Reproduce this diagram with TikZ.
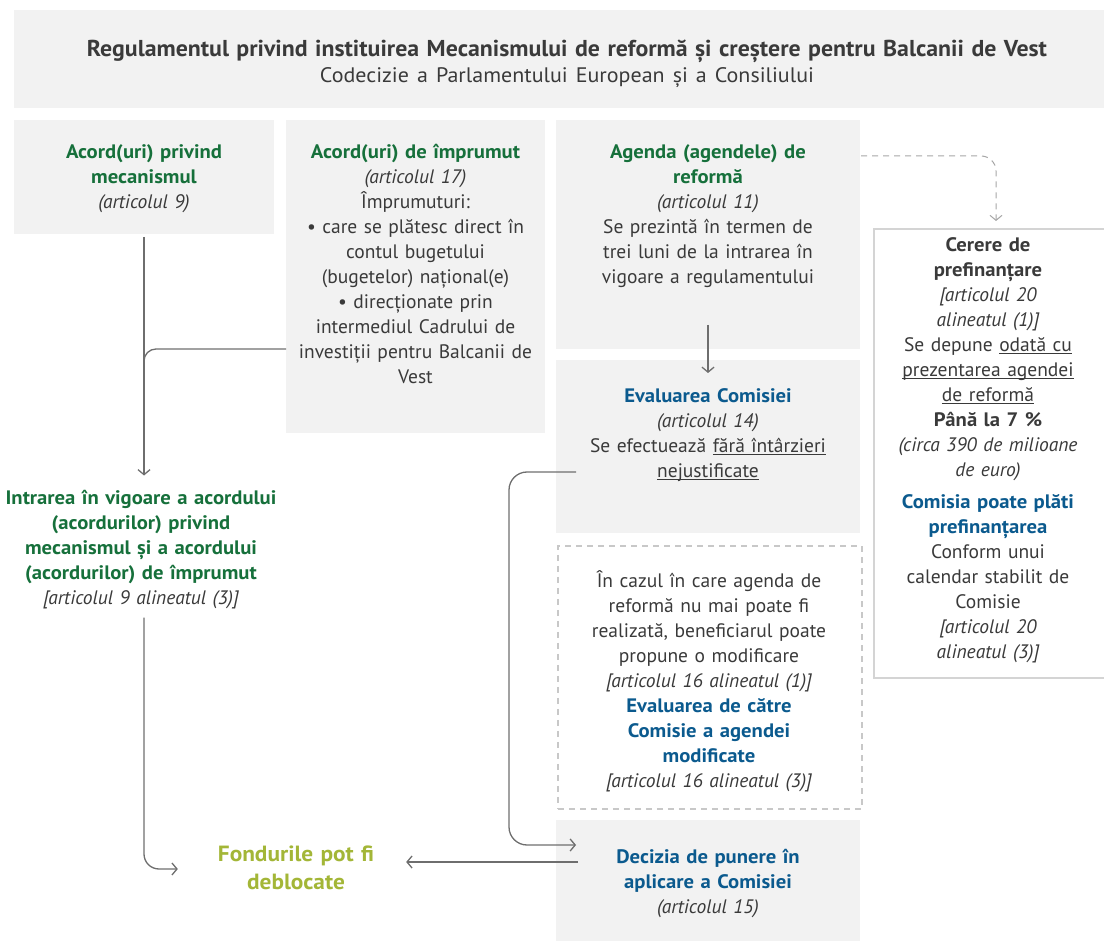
\documentclass[tikz,border=0pt]{standalone}
\usepackage{fontspec}
\setmainfont{PT Sans}[BoldFeatures={FakeStretch=1.06}]
\usetikzlibrary{arrows.meta,calc}
\definecolor{boxgray}{HTML}{F2F2F2}
\definecolor{dgreen}{HTML}{16703B}
\definecolor{dblue}{HTML}{0B5A8E}
\definecolor{limeg}{HTML}{A3B637}
\definecolor{txt}{HTML}{3A3A3A}
\definecolor{lngray}{HTML}{6E6E6E}
\definecolor{dashgray}{HTML}{C8C8C8}
\definecolor{gborder}{HTML}{D4D4D4}
\newcommand\mygreen[1]{{\bfseries\color{dgreen}#1}}
\newcommand\myblue[1]{{\bfseries\color{dblue}#1}}
\newcommand\myit[1]{{\itshape #1}}
\newcommand\myul[1]{\underline{\raisebox{0pt}[\height][0.5pt]{#1}}}
\tikzset{
  gbox/.style={fill=boxgray, draw=none, anchor=north west, inner sep=0pt, outer sep=0pt},
  tnode/.style={anchor=north, inner sep=0pt, align=center, text=txt, font=\fontsize{19.5}{25}\selectfont},
  conn/.style={draw=lngray, line width=1.3pt, -{Straight Barb[length=5pt,width=12pt]}},
  plainln/.style={draw=lngray, line width=1.3pt},
  dconn/.style={draw=gray!70, line width=1pt, dash pattern=on 6pt off 5pt, -{Straight Barb[length=5pt,width=12pt]}},
}
\begin{document}
\begin{tikzpicture}[x=1pt,y=-1pt]
\useasboundingbox (0,0) rectangle (1104,941);
% header
\node[gbox, minimum width=1095pt, minimum height=98pt] (head) at (14,10) {};
\node[tnode, text width=1080pt, font=\fontsize{23}{26.5}\selectfont] (headt) at (567,39.5)
  {\resizebox{960pt}{\height}{\bfseries Regulamentul privind instituirea Mecanismului de reformă și creștere pentru Balcanii de Vest}\\
   \resizebox{494pt}{\height}{\fontsize{21}{26.5}\selectfont Codecizie a Parlamentului European și a Consiliului}};
% boxes
\node[gbox, minimum width=260pt, minimum height=114pt] (boxA) at (14,120) {};
\node[gbox, minimum width=259pt, minimum height=313pt] (boxB) at (286,120) {};
\node[gbox, minimum width=304pt, minimum height=229pt] (boxC) at (556,120) {};
\node[gbox, minimum width=304pt, minimum height=173pt] (boxD) at (556,360) {};
\node[draw=dashgray, line width=1.5pt, dash pattern=on 6pt off 5pt, anchor=north west, inner sep=0pt,
      minimum width=304pt, minimum height=263pt] (boxE) at (557,545) {};
\node[gbox, minimum width=304pt, minimum height=121pt] (boxF) at (556,820) {};
\node[draw=gborder, line width=1.6pt, fill=white, anchor=north west, inner sep=0pt,
      minimum width=236pt, minimum height=449pt] (boxG) at (873,228) {};
% texts
\node[tnode, text width=250pt] (tA) at (144,144.5)
  {\mygreen{Acord(uri) privind\\mecanismul}\\\myit{(articolul 9)}};
\node[tnode, text width=255pt] (tB) at (415.5,144.5)
  {\mygreen{Acord(uri) de împrumut}\\\myit{(articolul 17)}\\Împrumuturi:\\• care se plătesc direct în\\contul bugetului\\(bugetelor) național(e)\\• direcționate prin\\intermediul Cadrului de\\investiții pentru Balcanii de\\Vest};
\node[tnode, text width=300pt] (tC) at (708,144.5)
  {\mygreen{Agenda (agendele) de\\reformă}\\\myit{(articolul 11)}\\Se prezintă în termen de\\trei luni de la intrarea în\\vigoare a regulamentului};
\node[tnode, text width=300pt] (tD) at (708,388)
  {\myblue{Evaluarea Comisiei}\\\myit{(articolul 14)}\\Se efectuează \myul{fără întârzieri}\\\myul{nejustificate}};
\node[tnode, text width=300pt] (tE) at (709,570.5)
  {În cazul în care agenda de\\reformă nu mai poate fi\\realizată, beneficiarul poate\\propune o modificare\\\myit{[articolul 16 alineatul (1)]}\\\myblue{Evaluarea de către\\Comisie a agendei\\modificate}\\\myit{[articolul 16 alineatul (3)]}};
\node[tnode, text width=300pt] (tF) at (708,849.5)
  {\myblue{Decizia de punere în\\aplicare a Comisiei}\\\myit{(articolul 15)}};
\node[tnode, text width=228pt] (tG) at (988,237.5)
  {{\bfseries Cerere de\\prefinanțare}\\\myit{[articolul 20\\alineatul (1)]}\\Se depune \myul{odată cu}\\\myul{prezentarea agendei}\\\myul{de reformă}\\{\bfseries Până la 7 \%}\\\myit{(circa 390 de milioane\\de euro)}\\[7pt]\myblue{Comisia poate plăti\\prefinanțarea}\\Conform unui\\calendar stabilit de\\Comisie\\\myit{[articolul 20\\alineatul (3)]}};
\node[tnode, text width=290pt] (intr) at (141,490.5)
  {\mygreen{Intrarea în vigoare a acordului\\(acordurilor) privind\\mecanismul și a acordului\\(acordurilor) de împrumut}\\\myit{[articolul 9 alineatul (3)]}};
\node[tnode, anchor=center, text width=200pt, font=\fontsize{22}{28}\selectfont] (fond) at (296,868)
  {{\bfseries\color{limeg}Fondurile pot fi\\deblocate}};
% connector helper coordinates
\coordinate (jB) at (144,349);
\coordinate (jF) at (578,862);
\coordinate (jD) at (576,472);
\coordinate (jL) at (509,660);
\coordinate (jF2) at (576,845);
\coordinate (dS) at (861,156);
\coordinate (dX) at (996,200);
% connectors
\draw[conn] ([yshift=-3pt]boxA.south) -- ([yshift=15pt]boxA.south |- intr.north);
\draw[plainln, rounded corners=12pt] (boxB.west |- jB) -| ([yshift=-24pt]jB);
\draw[conn, rounded corners=15pt] ([yshift=-8pt]intr.south -| jB) |- ([xshift=-18pt,yshift=-1pt]fond.west);
\draw[conn] (jF) -- ([xshift=10pt]fond.east |- jF);
\draw[conn, rounded corners=18pt] (jD) -| (jL) |- (jF2);
\draw[conn] ([yshift=24pt]boxC.south) -- ([yshift=-13pt]boxD.north);
\draw[dconn, rounded corners=15pt] (dS) -| ([yshift=7pt]dX |- boxG.north);
\end{tikzpicture}
\end{document}
